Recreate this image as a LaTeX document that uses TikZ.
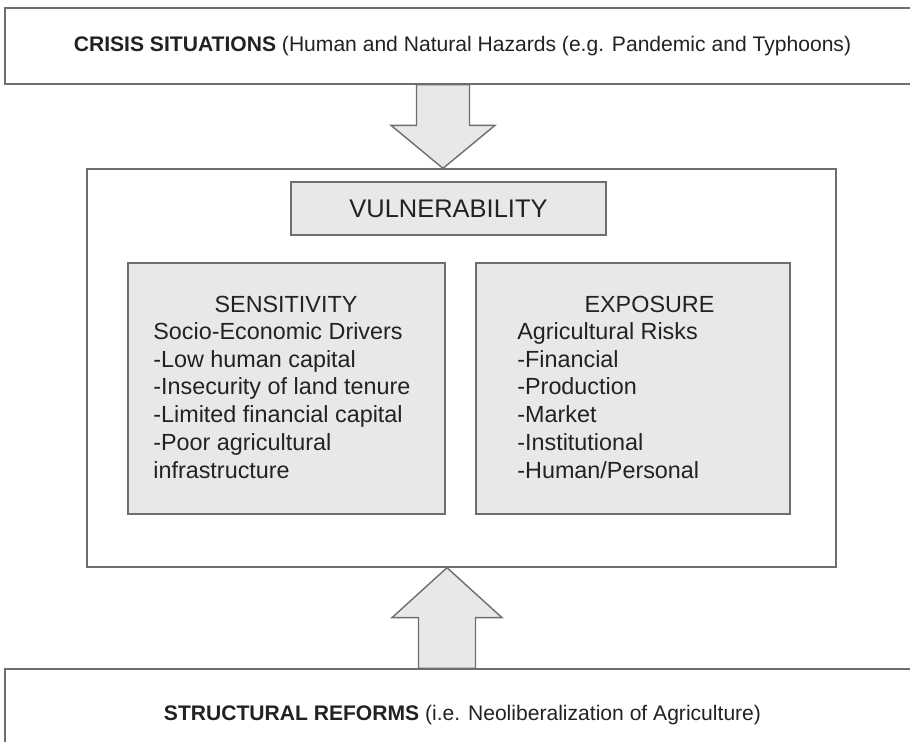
\documentclass[tikz,border=0pt]{standalone}
\usepackage{fontspec}
\setmainfont{Liberation Sans}
\usepackage{tikz}
\usetikzlibrary{positioning,calc}

\definecolor{panelgray}{HTML}{E8E8E8}
\definecolor{linegray}{HTML}{6E6E6E}
\definecolor{inkgray}{HTML}{222222}

\begin{document}
\begin{tikzpicture}[
    x=0.02cm, y=-0.02cm,
    frame/.style={draw=linegray, line width=0.8pt, inner sep=0pt, text=inkgray},
    panel/.style={frame, fill=panelgray},
    blockarrow/.style={draw=linegray, line width=0.8pt, fill=panelgray, line join=miter},
    bodytext/.style={font=\fontsize{13.3}{15.8}\selectfont, inner sep=0pt, align=left, text=inkgray},
]
\useasboundingbox (0,0) rectangle (910,741);

% Top: crisis situations
\node[frame, minimum width=18.3cm, minimum height=1.52cm, font=\fontsize{12}{14}\selectfont]
    (crisis) at (462.5,46)
    {\textbf{CRISIS SITUATIONS} (Human and Natural Hazards (e.g. Pandemic and Typhoons)};

% Middle: vulnerability frame
\node[frame, minimum width=14.98cm, minimum height=7.96cm] (main) at (461.5,368) {};
\node[panel, minimum width=6.3cm, minimum height=1.06cm, font=\fontsize{14.5}{16}\selectfont]
    (vuln) at (448.5,208.5) {VULNERABILITY};

% Sensitivity panel
\node[panel, minimum width=6.34cm, minimum height=5.02cm] (sens) at (286.5,388.5) {};
\node[bodytext, anchor=base] (senshead) at (286,312) {SENSITIVITY};
\node[bodytext, anchor=north west] (senslist) at (153,322)
    {Socio-Economic Drivers\\-Low human capital\\-Insecurity of land tenure\\
     -Limited financial capital\\-Poor agricultural\\infrastructure};

% Exposure panel
\node[panel, minimum width=6.28cm, minimum height=5.02cm] (expo) at (633,388.5) {};
\node[bodytext, anchor=base] (expohead) at (649.5,312) {EXPOSURE};
\node[bodytext, anchor=north west] (expolist) at (517,322)
    {Agricultural Risks\\-Financial\\-Production\\-Market\\-Institutional\\-Human/Personal};

% Bottom: structural reforms
\node[frame, minimum width=18.3cm, minimum height=1.84cm, font=\fontsize{12}{14}\selectfont]
    (reforms) at (462.5,715)
    {\textbf{STRUCTURAL REFORMS} (i.e. Neoliberalization of Agriculture)};

% Block arrows into the frame
\coordinate (downtip) at ($(main.north)+(-18.5,0)$);
\coordinate (uptip) at ($(main.south)+(-14.5,0)$);

\draw[blockarrow] (downtip) -- ++(-52,-43) -- ++(25.5,0)
    -- ($(crisis.south -| downtip)+(-26.5,0)$) -- ++(53,0)
    -- ($(downtip)+(26.5,-43)$) -- ++(25.5,0) -- cycle;

\draw[blockarrow] (uptip) -- ++(-55,50) -- ++(26.5,0)
    -- ($(reforms.north -| uptip)+(-28.5,0)$) -- ++(57,0)
    -- ($(uptip)+(28.5,50)$) -- ++(26.5,0) -- cycle;
\end{tikzpicture}
\end{document}
